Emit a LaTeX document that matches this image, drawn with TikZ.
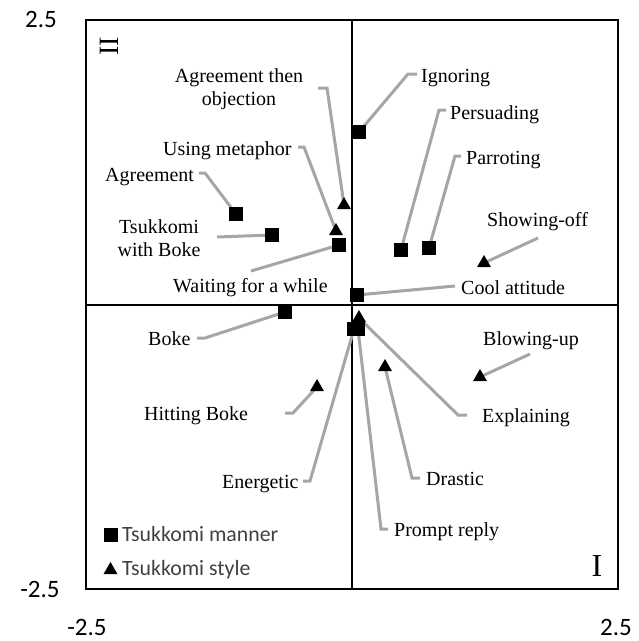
\documentclass[tikz,border=0pt]{standalone}
\usepackage{fontspec}
\setmainfont{Liberation Serif}
\newfontfamily\calfont{Carlito}
\usetikzlibrary{shapes.geometric}
\definecolor{conn}{HTML}{A6A6A6}
\definecolor{legtxt}{HTML}{404040}
\tikzset{
  frame/.style={line width=2pt, draw=black},
  axisline/.style={line width=2pt, draw=black},
  conline/.style={line width=3pt, draw=conn},
  sqmark/.style={rectangle, fill=black, inner sep=0pt, minimum size=14pt},
  trimark/.style={regular polygon, regular polygon sides=3, fill=black, inner sep=0pt, minimum size=16pt},
  lbl/.style={anchor=base west, inner sep=0pt, font=\fontsize{20}{23}\selectfont},
  lblc/.style={anchor=center, inner sep=0pt, align=center, font=\fontsize{20}{23}\selectfont},
  ticklbl/.style={anchor=center, inner sep=0pt, font=\calfont\fontsize{25}{25}\selectfont},
  legendlbl/.style={anchor=base west, inner sep=0pt, text=legtxt, font=\calfont\fontsize{21.8}{22}\selectfont},
}
\begin{document}
\begin{tikzpicture}[x=1pt, y=-1pt]
\useasboundingbox (0,0) rectangle (639,641);
% frame and axes
\draw[frame] (86,20) rectangle (618,589);
\coordinate (vtop) at (352,20);
\coordinate (vbot) at (352,589);
\coordinate (hl) at (86,305);
\coordinate (hr) at (618,305);
\draw[axisline] (vtop) -- (vbot);
\draw[axisline] (hl) -- (hr);
% tick labels
\node[ticklbl] (t1) at (41,19) {2.5};
\node[ticklbl] (t2) at (40,589) {-2.5};
\node[ticklbl] (t3) at (87,627) {-2.5};
\node[ticklbl] (t4) at (616,627) {2.5};
% quadrant labels
\node[inner sep=0pt, rotate=90, font=\fontsize{28}{28}\selectfont] (q2) at (109,46) {II};
\node[inner sep=0pt, font=\fontsize{32}{32}\selectfont] (q1) at (597,566) {I};
% marker positions
\coordinate (pign) at (359,132);
\coordinate (pper) at (401,250);
\coordinate (ppar) at (429,248);
\coordinate (pcool) at (357,295);
\coordinate (pagr) at (236,214);
\coordinate (ptwb) at (272,235);
\coordinate (pwait) at (339,245);
\coordinate (pboke) at (285,312);
\coordinate (pene) at (354,329);
\coordinate (ppro) at (358,329);
\coordinate (pexp) at (359,318);
\coordinate (pato) at (344,205);
\coordinate (pmet) at (336,231);
\coordinate (pshow) at (484,263);
\coordinate (phit) at (317,387);
\coordinate (pdra) at (385,367);
\coordinate (pblow) at (480,377);
% connector start / bend points
\coordinate (sign) at (417,74);  \coordinate (bign) at (408,74);
\coordinate (sper) at (446,110); \coordinate (bper) at (439,110);
\coordinate (spar) at (461,156); \coordinate (bpar) at (455,156);
\coordinate (sshow) at (538,238);
\coordinate (scool) at (455,286);
\coordinate (sato) at (318,88);  \coordinate (bato) at (327,88);
\coordinate (smet) at (298,147); \coordinate (bmet) at (304,147);
\coordinate (sagr) at (199,173); \coordinate (bagr) at (205,173);
\coordinate (stwb) at (217,237);
\coordinate (swait) at (251,271);
\coordinate (sboke) at (197,338); \coordinate (bboke) at (205,338);
\coordinate (shit) at (285,413); \coordinate (bhit) at (293,413);
\coordinate (sene) at (303,481); \coordinate (bene) at (310,481);
\coordinate (sexp) at (467,415); \coordinate (bexp) at (458,415);
\coordinate (sdra) at (420,478); \coordinate (bdra) at (412,478);
\coordinate (spro) at (388,529); \coordinate (bpro) at (381,529);
\coordinate (sblow) at (530,354);
% connectors
\draw[conline] (sign) -- (bign) -- (pign);
\draw[conline] (sper) -- (bper) -- (pper);
\draw[conline] (spar) -- (bpar) -- (ppar);
\draw[conline] (sshow) -- (pshow);
\draw[conline] (scool) -- (pcool);
\draw[conline] (sato) -- (bato) -- (pato);
\draw[conline] (smet) -- (bmet) -- (pmet);
\draw[conline] (sagr) -- (bagr) -- (pagr);
\draw[conline] (stwb) -- (ptwb);
\draw[conline] (swait) -- (pwait);
\draw[conline] (sboke) -- (bboke) -- (pboke);
\draw[conline] (shit) -- (bhit) -- (phit);
\draw[conline] (sene) -- (bene) -- (pene);
\draw[conline] (sexp) -- (bexp) -- (pexp);
\draw[conline] (sdra) -- (bdra) -- (pdra);
\draw[conline] (spro) -- (bpro) -- (ppro);
\draw[conline] (sblow) -- (pblow);
% markers
\node[sqmark] (mign) at (pign) {};
\node[sqmark] (mper) at (pper) {};
\node[sqmark] (mpar) at (ppar) {};
\node[sqmark] (mcool) at (pcool) {};
\node[sqmark] (magr) at (pagr) {};
\node[sqmark] (mtwb) at (ptwb) {};
\node[sqmark] (mwait) at (pwait) {};
\node[sqmark] (mboke) at (pboke) {};
\node[sqmark] (mene) at (pene) {};
\node[sqmark] (mpro) at (ppro) {};
\node[trimark] (mexp) at (pexp) {};
\node[trimark] (mato) at (pato) {};
\node[trimark] (mmet) at (pmet) {};
\node[trimark] (mshow) at (pshow) {};
\node[trimark] (mhit) at (phit) {};
\node[trimark] (mdra) at (pdra) {};
\node[trimark] (mblow) at (pblow) {};
% labels
\node[lbl] (lign) at (421,82) {Ignoring};
\node[lbl] (lper) at (450,119) {Persuading};
\node[lbl] (lpar) at (466,164) {Parroting};
\node[lbl] (lshow) at (487,226) {Showing-off};
\node[lbl] (lcool) at (461,294) {Cool attitude};
\node[lblc] (lato) at (239,89) {Agreement then\\objection};
\node[lbl] (lmet) at (163,155) {Using metaphor};
\node[lbl] (lagr) at (105,181) {Agreement};
\node[lblc] (ltwb) at (159,238) {Tsukkomi\\with Boke};
\node[lbl] (lwait) at (173,292) {Waiting for a while};
\node[lbl] (lboke) at (148,345) {Boke};
\node[lbl] (lhit) at (144,420) {Hitting Boke};
\node[lbl] (lene) at (222,488) {Energetic};
\node[lbl] (lexp) at (482,422) {Explaining};
\node[lbl] (ldra) at (426,485) {Drastic};
\node[lbl] (lpro) at (394,536) {Prompt reply};
\node[lbl] (lblow) at (483,345) {Blowing-up};
% legend
\node[sqmark] (legsq) at (111,535) {};
\node[legendlbl] (legsqt) at (122,541) {Tsukkomi manner};
\node[trimark] (legtri) at (110.5,570) {};
\node[legendlbl] (legtrit) at (122,575) {Tsukkomi style};
\end{tikzpicture}
\end{document}
